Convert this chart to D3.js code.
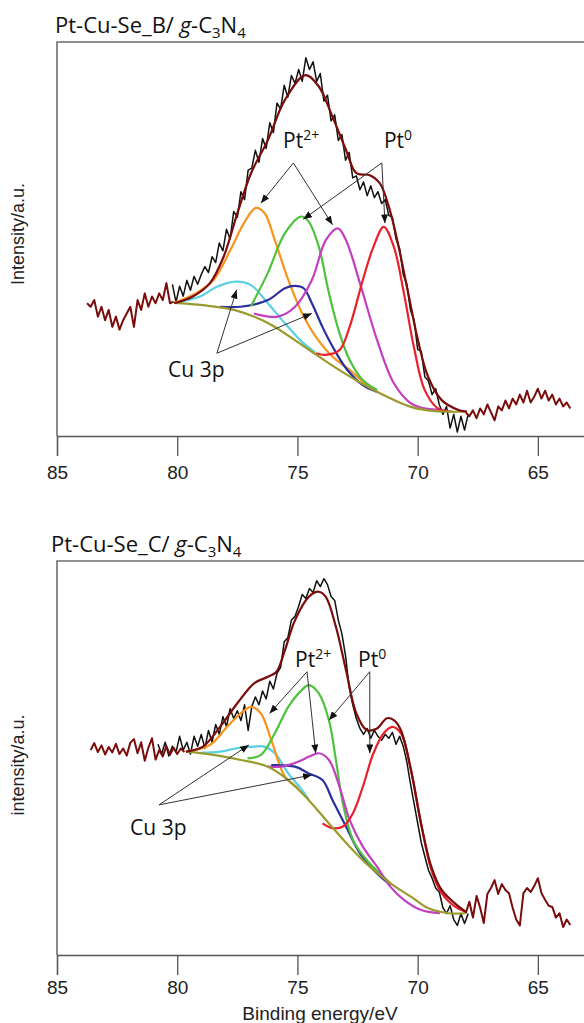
<!DOCTYPE html>
<html>
<head>
<meta charset="utf-8">
<script src="https://cdn.jsdelivr.net/npm/d3@7"></script>
<style>
  html, body { margin: 0; padding: 0; background: #fff; }
  svg { display: block; }
</style>
</head>
<body>
<svg id="chart" width="584" height="1023"></svg>
<script>
// binding energy ticks (eV)
const xTicks = [85, 80, 75, 70, 65];
const STEP = 0.15; // eV between recorded channels

// ---------- Pt-Cu-Se_B / g-C3N4 ----------
const bLeftStart = 83.75;
const bLeftNoise = [33.7, 32.8, 34.5, 30.3, 32.8, 29.4, 32.0, 27.7, 30.3, 27.0, 29.4, 31.1, 32.8,
  27.7, 34.5, 32.0, 36.2, 32.8, 35.4, 33.7, 36.2, 34.5, 38.8, 33.7, 34.1];
const bRawStart = 80.2;
const bRaw = [38.5, 34.0, 38.0, 35.5, 39.5, 37.0, 40.5, 38.5, 41.0, 43.0,
  41.5, 45.5, 44.0, 49.0, 47.0, 52.5, 50.0, 57.0, 55.5, 62.0,
  60.0, 67.5, 68.0, 72.5, 69.5, 75.5, 73.0, 79.5, 77.0, 84.5,
  83.0, 89.0, 86.0, 91.5, 89.5, 93.0, 90.0, 96.0, 93.0, 95.0,
  90.0, 92.0, 85.0, 86.5, 80.0, 81.5, 75.0, 76.5, 70.0, 72.0,
  65.5, 66.0, 62.5, 64.5, 61.0, 63.5, 60.5, 62.0, 59.0, 60.0,
  56.0, 55.5, 50.0, 47.5, 41.0, 38.5, 32.0, 29.5, 22.0, 21.5,
  15.0, 14.0, 10.5, 12.0, 8.0, 5.5, 7.5, 2.0, 5.5, 1.0,
  5.0, 1.5, 5.5];
const bRightStart = 68.0;
const bRightNoise = [6.0, 5.0, 6.5, 4.5, 7.0, 5.5, 8.0, 6.0, 4.0, 7.5, 6.5, 9.0, 7.0, 9.5, 8.0,
  10.5, 8.5, 11.5, 8.5, 10.0, 12.0, 9.5, 11.5, 9.0, 10.5, 8.0, 9.5, 7.5, 8.5, 7.0];
const bEnvelope = [[80.12, 33.7], [79.35, 35.4], [78.64, 38.8], [78.07, 45.5], [77.50, 56.5],
  [76.93, 66.7], [76.23, 75.1], [75.52, 85.3], [74.67, 91.6], [74.11, 88.7], [73.54, 81.0],
  [72.98, 72.6], [72.55, 66.7], [71.99, 66.2], [71.57, 64.1], [71.20, 58.2], [70.85, 49.7],
  [70.42, 37.1], [69.99, 24.4], [69.57, 15.1], [69.00, 9.1], [68.30, 6.6], [67.95, 6.2]];
const bBaseline = [[80.13, 33.8], [78.93, 33.2], [77.64, 32.0], [76.23, 28.7], [74.81, 23.1],
  [73.40, 17.3], [71.99, 12.2], [70.28, 7.4], [69.28, 6.3], [68.01, 6.2]];
const bOrange = [[80.13, 33.8], [79.20, 36.3], [78.49, 39.6], [77.79, 47.2], [77.22, 54.1],
  [76.73, 57.9], [76.37, 56.6], [75.94, 49.7], [75.38, 39.6], [74.81, 31.2], [74.24, 25.2],
  [73.54, 20.1], [72.83, 16.8], [71.99, 12.2]];
const bCyan = [[80.13, 33.8], [79.05, 35.4], [78.35, 37.9], [77.57, 39.2], [76.93, 38.3],
  [76.23, 33.7], [75.52, 28.6], [74.81, 23.9], [74.27, 21.3]];
const bGreen = [[76.93, 33.0], [76.23, 41.4], [75.52, 51.5], [74.85, 55.7], [74.53, 54.4],
  [74.11, 48.0], [73.69, 36.3], [73.25, 26.1], [72.83, 19.3], [72.28, 14.2], [71.69, 11.7]];
const bBlue = [[78.22, 32.8], [77.36, 32.8], [76.23, 34.5], [75.52, 37.5], [75.10, 38.1],
  [74.74, 37.5], [74.40, 33.7], [73.96, 27.7], [73.54, 22.7], [72.98, 17.2], [72.28, 12.9],
  [71.69, 11.2]];
const bMagenta = [[76.81, 31.1], [75.81, 30.3], [75.10, 32.8], [74.40, 39.6], [73.82, 49.7],
  [73.32, 52.7], [72.98, 49.7], [72.40, 38.8], [71.69, 24.4], [70.99, 13.4], [70.28, 8.3],
  [69.71, 7.0], [69.00, 6.6]];
const bRed = [[74.24, 21.0], [73.82, 20.6], [73.25, 21.8], [72.83, 27.7], [72.28, 39.6],
  [71.84, 48.0], [71.41, 53.1], [70.99, 48.0], [70.57, 36.2], [70.16, 22.7], [69.71, 11.7],
  [69.16, 7.0], [68.58, 6.2]];

// ---------- Pt-Cu-Se_C / g-C3N4 ----------
const cLeftStart = 83.6;
const cLeftNoise = [52.0, 53.8, 51.5, 53.2, 50.9, 52.8, 51.4, 53.6, 51.0, 52.4, 50.6, 53.9, 54.8,
  51.2, 54.0, 49.3, 52.6, 55.0, 49.6, 52.0, 50.4, 53.0, 50.8, 52.6, 51.0, 52.4, 51.5];
const cRawStart = 80.8;
const cRaw = [53.5, 51.0, 54.0, 50.5, 53.0, 51.5, 55.5, 52.0, 54.0, 51.0,
  55.5, 53.0, 56.0, 52.5, 57.0, 54.0, 58.5, 56.0, 60.5, 58.0,
  62.5, 60.0, 62.0, 59.5, 63.5, 57.0, 63.0, 65.5, 63.5, 67.0,
  65.0, 69.5, 67.5, 71.5, 73.0, 79.5, 80.5, 85.0, 86.0, 88.5,
  91.5, 90.5, 93.0, 92.0, 95.0, 93.5, 95.5, 94.0, 91.0, 90.0,
  85.0, 81.5, 76.0, 68.0, 63.5, 60.0, 57.5, 56.0, 57.5, 55.0,
  57.0, 55.5, 54.5, 56.0, 55.0, 56.5, 53.5, 55.5, 53.0, 49.0,
  43.5, 38.5, 33.5, 28.5, 25.0, 21.5, 19.5, 17.0, 16.0, 12.0,
  10.5, 12.5, 9.0, 7.5, 10.5, 8.0, 10.5];
const cRightStart = 68.0;
const cRightNoise = [10.6, 13.5, 9.5, 15.0, 12.0, 8.1, 15.5, 17.0, 19.0, 15.5, 18.0, 16.5, 15.7,
  12.0, 9.0, 7.5, 15.7, 17.0, 16.0, 17.5, 19.5, 15.7, 14.0, 12.5, 12.2, 9.5, 10.6, 7.1, 9.0, 7.6];
const cEnvelope = [[79.64, 51.6], [78.93, 52.9], [78.22, 57.9], [77.50, 63.9], [76.79, 69.0],
  [76.23, 70.6], [75.87, 71.9], [75.52, 77.4], [75.10, 85.0], [74.53, 90.9], [74.11, 92.2],
  [73.82, 90.9], [73.40, 83.3], [72.98, 72.3], [72.55, 61.3], [72.12, 57.1], [71.69, 57.5],
  [71.28, 60.1], [70.99, 59.6], [70.70, 57.1], [70.28, 47.0], [69.86, 33.4], [69.43, 22.4],
  [69.00, 16.5], [68.45, 13.1], [68.01, 11.0]];
const cBaseline = [[79.64, 51.6], [78.49, 50.8], [77.36, 49.5], [76.23, 47.8], [75.38, 44.4],
  [74.53, 39.3], [73.69, 33.4], [72.83, 27.5], [71.99, 22.4], [71.13, 18.2], [70.28, 14.8],
  [69.57, 11.9], [68.72, 10.6], [68.01, 10.6]];
const cOrange = [[79.64, 51.6], [78.64, 53.3], [77.93, 57.9], [77.36, 61.3], [76.93, 63.0],
  [76.52, 61.3], [76.09, 54.6], [75.52, 45.3], [74.98, 42.4]];
const cCyan = [[79.05, 51.3], [78.22, 51.6], [77.50, 52.5], [76.79, 52.9], [76.37, 52.9],
  [75.94, 51.2], [75.38, 46.1], [74.81, 41.9], [74.52, 39.3]];
const cGreen = [[77.08, 49.9], [76.52, 50.8], [75.94, 56.3], [75.38, 63.0], [74.81, 67.3],
  [74.53, 68.5], [74.11, 66.4], [73.69, 59.6], [73.40, 49.5], [73.11, 38.5], [72.69, 29.2],
  [72.12, 24.1], [71.13, 18.2]];
const cBlue = [[76.09, 48.2], [75.10, 47.8], [74.53, 46.1], [73.96, 44.4], [73.54, 39.3],
  [72.98, 32.6], [72.40, 25.8], [71.69, 20.7], [71.13, 17.8]];
const cMagenta = [[76.23, 47.8], [75.66, 47.8], [74.95, 49.1], [74.53, 50.3], [74.11, 51.2],
  [73.69, 49.5], [73.25, 42.7], [72.83, 34.3], [72.28, 27.5], [71.69, 22.4], [71.13, 17.3],
  [70.57, 14.0], [69.86, 11.4], [69.07, 10.6]];
const cRed = [[73.96, 33.4], [73.54, 32.2], [73.11, 32.6], [72.69, 36.0], [72.28, 42.7],
  [71.84, 51.2], [71.41, 56.3], [71.06, 57.9], [70.70, 56.3], [70.28, 47.0], [69.86, 33.4],
  [69.43, 21.6], [69.00, 15.7], [68.45, 12.3], [68.01, 11.0]];

const colors = {
  raw: "#111111", envelope: "#7a0c0c", baseline: "#9a9a2e", orange: "#f7941d",
  cyan: "#5cd0e2", green: "#4ec23c", blue: "#2b2f9e", magenta: "#c23fc0", red: "#e8212b"
};

// evenly spaced channels -> [energy, intensity]
function channels(start, values) {
  return values.map((v, i) => [start - i * STEP, v]);
}

const panels = [
  {
    name: "B", yLabel: "Intensity/a.u.", top: 42, bottom: 436, titleX: 55, titleY: 33,
    labelY: 234, tickPad: 10, xTitle: false,
    left: channels(bLeftStart, bLeftNoise), raw: channels(bRawStart, bRaw),
    right: channels(bRightStart, bRightNoise), envelope: bEnvelope, baseline: bBaseline,
    peaks: [["cyan", bCyan], ["orange", bOrange], ["blue", bBlue], ["green", bGreen],
            ["magenta", bMagenta], ["red", bRed]],
    notes: [
      { text: "Pt", sup: "2+", at: [75.60, 73.1], from: [75.17, 69.3], to: [[76.52, 59.1], [73.54, 53.6]] },
      { text: "Pt", sup: "0", at: [71.40, 73.1], from: [71.49, 69.3], to: [[74.76, 55.0], [71.36, 54.0]] },
      { text: "Cu 3p", sup: "", at: [80.38, 15.0], from: [78.35, 21.0], to: [[77.53, 37.1], [74.40, 31.1]] }
    ]
  },
  {
    name: "C", yLabel: "intensity/a.u.", top: 561, bottom: 955, titleX: 51, titleY: 552,
    labelY: 765, tickPad: 6, xTitle: true,
    left: channels(cLeftStart, cLeftNoise), raw: channels(cRawStart, cRaw),
    right: channels(cRightStart, cRightNoise), envelope: cEnvelope, baseline: cBaseline,
    peaks: [["cyan", cCyan], ["orange", cOrange], ["blue", cBlue], ["green", cGreen],
            ["magenta", cMagenta], ["red", cRed]],
    notes: [
      { text: "Pt", sup: "2+", at: [75.10, 73.0], from: [74.60, 71.9], to: [[76.16, 61.3], [74.24, 51.2]] },
      { text: "Pt", sup: "0", at: [72.48, 73.0], from: [71.99, 71.9], to: [[73.69, 59.6], [71.99, 51.2]] },
      { text: "Cu 3p", sup: "", at: [81.96, 30.5], from: [80.76, 38.1], to: [[77.02, 53.3], [74.40, 45.7]] }
    ]
  }
];

const svg = d3.select("#chart");
const x = d3.scaleLinear().domain([85, 62]).range([57, 610]);

svg.append("defs").append("marker")
  .attr("id", "arrow")
  .attr("viewBox", "0 0 10 8")
  .attr("refX", 10).attr("refY", 4)
  .attr("markerWidth", 9).attr("markerHeight", 7)
  .attr("markerUnits", "userSpaceOnUse")
  .attr("orient", "auto")
  .append("path").attr("d", "M0,0L10,4L0,8Z").attr("fill", "#111");

panels.forEach(p => {
  const y = d3.scaleLinear().domain([0, 100]).range([p.bottom, p.top]);
  const g = svg.append("g");

  // frame (right side runs off the page)
  g.append("path")
    .attr("d", `M${x(85)},${p.bottom}V${p.top}H${x(62)}`)
    .attr("fill", "none").attr("stroke", "#6e6e6e").attr("stroke-width", 1.6);

  const axis = g.append("g")
    .attr("transform", `translate(0,${p.bottom})`)
    .call(d3.axisBottom(x).tickValues(xTicks).tickSize(20).tickPadding(p.tickPad).tickFormat(d3.format("d")));
  axis.selectAll("path, line").attr("stroke", "#555").attr("stroke-width", 1.3);
  axis.selectAll("text").attr("font-family", "'Liberation Sans', Arial, sans-serif")
    .attr("font-size", 19).attr("fill", "#222");

  const smooth = d3.line().x(d => x(d[0])).y(d => y(d[1])).curve(d3.curveCatmullRom.alpha(0.5));
  const rough = d3.line().x(d => x(d[0])).y(d => y(d[1]));

  g.append("path").attr("d", rough(p.raw)).attr("fill", "none")
    .attr("stroke", colors.raw).attr("stroke-width", 1.5).attr("stroke-linejoin", "round");

  p.peaks.forEach(([c, pts]) => {
    g.append("path").attr("d", smooth(pts)).attr("fill", "none")
      .attr("stroke", colors[c]).attr("stroke-width", 2.2);
  });
  g.append("path").attr("d", smooth(p.baseline)).attr("fill", "none")
    .attr("stroke", colors.baseline).attr("stroke-width", 2.2);

  g.append("path").attr("d", smooth(p.envelope)).attr("fill", "none")
    .attr("stroke", colors.envelope).attr("stroke-width", 2.2);
  [p.left, p.right].forEach(seg => {
    g.append("path").attr("d", rough(seg)).attr("fill", "none")
      .attr("stroke", colors.envelope).attr("stroke-width", 2).attr("stroke-linejoin", "round");
  });

  // labels with arrows
  p.notes.forEach(n => {
    n.to.forEach(t => {
      g.append("line")
        .attr("x1", x(n.from[0])).attr("y1", y(n.from[1]))
        .attr("x2", x(t[0])).attr("y2", y(t[1]))
        .attr("stroke", "#333").attr("stroke-width", 1)
        .attr("marker-end", "url(#arrow)");
    });
    const txt = g.append("text")
      .attr("x", x(n.at[0])).attr("y", y(n.at[1]))
      .attr("font-family", "'Open Sans', 'DejaVu Sans', sans-serif")
      .attr("font-size", 21).attr("fill", "#111");
    txt.append("tspan").text(n.text);
    if (n.sup) txt.append("tspan").attr("dy", -8).attr("font-size", 14).text(n.sup);
  });

  // panel title
  const title = g.append("text")
    .attr("x", p.titleX).attr("y", p.titleY)
    .attr("font-family", "'Open Sans', 'DejaVu Sans', sans-serif")
    .attr("font-size", 22).attr("fill", "#111");
  title.append("tspan").text(`Pt-Cu-Se_${p.name}/ `);
  title.append("tspan").attr("font-style", "italic").text("g");
  title.append("tspan").text("-C");
  title.append("tspan").attr("font-size", 15).attr("dy", 5).text("3");
  title.append("tspan").attr("dy", -5).text("N");
  title.append("tspan").attr("font-size", 15).attr("dy", 5).text("4");

  g.append("text")
    .attr("transform", `translate(24,${p.labelY}) rotate(-90)`)
    .attr("text-anchor", "middle")
    .attr("font-family", "'Liberation Sans', Arial, sans-serif")
    .attr("font-size", 18).attr("fill", "#222")
    .text(p.yLabel);

  if (p.xTitle) {
    g.append("text")
      .attr("x", 320).attr("y", 1020)
      .attr("text-anchor", "middle")
      .attr("font-family", "'Liberation Sans', Arial, sans-serif")
      .attr("font-size", 19).attr("fill", "#222")
      .text("Binding energy/eV");
  }
});
</script>
</body>
</html>
